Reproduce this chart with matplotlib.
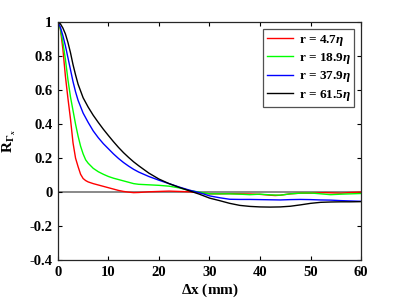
import numpy as np
import matplotlib
matplotlib.use("Agg")
from matplotlib import pyplot as plt

# values
x_red = [0, 0.5, 1, 1.5, 2, 2.5, 3, 3.5, 4, 4.5, 5, 5.5, 6, 7, 8, 9, 10, 11, 12, 13, 14, 15, 16,
         18, 20, 22, 24, 26, 28, 30, 32, 34, 36, 38, 40, 42, 43, 44, 46, 48, 50, 52, 53, 54, 56,
         58, 60]
y_red = [1.0, 0.96, 0.84, 0.68, 0.55, 0.43, 0.29, 0.2, 0.15, 0.105, 0.08, 0.068, 0.06, 0.05, 0.042,
         0.034, 0.026, 0.018, 0.01, 0.004, 0.0, -0.003, -0.002, 0.002, 0.004, 0.006, 0.004, 0.002,
         -0.004, -0.01, -0.01, -0.009, -0.01, -0.011, -0.013, -0.018, -0.02, -0.018, -0.01, -0.006,
         -0.006, -0.004, -0.003, -0.004, -0.006, -0.002, 0.0]

x_green = [0, 0.5, 1, 1.5, 2, 2.5, 3, 3.5, 4, 4.5, 5, 5.5, 6, 7, 8, 9, 10, 11, 12, 13, 14, 15, 16,
           18, 20, 22, 24, 26, 28, 30, 32, 34, 36, 38, 40, 42, 44, 46, 48, 50, 52, 54, 56, 58, 60]
y_green = [1.0, 0.96, 0.88, 0.78, 0.66, 0.56, 0.48, 0.4, 0.33, 0.27, 0.225, 0.19, 0.17, 0.14, 0.12,
           0.105, 0.092, 0.082, 0.074, 0.066, 0.058, 0.05, 0.046, 0.043, 0.04, 0.035, 0.025, 0.01,
           0.0, -0.01, -0.01, -0.01, -0.012, -0.015, -0.012, -0.016, -0.018, -0.01, -0.006, -0.005,
           -0.01, -0.015, -0.012, -0.01, -0.008]

x_blue = [0, 0.5, 1, 1.5, 2, 2.5, 3, 3.5, 4, 5, 6, 7, 8, 9, 10, 11, 12, 13, 14, 15, 16, 18, 20,
          22, 24, 26, 28, 30, 32, 34, 36, 38, 40, 42, 44, 46, 48, 50, 52, 54, 56, 58, 60]
y_blue = [1.0, 0.97, 0.92, 0.86, 0.79, 0.72, 0.65, 0.59, 0.54, 0.465, 0.41, 0.36, 0.32, 0.285,
          0.255, 0.225, 0.198, 0.174, 0.153, 0.134, 0.118, 0.092, 0.07, 0.05, 0.03, 0.012, -0.003,
          -0.022, -0.033, -0.042, -0.043, -0.043, -0.044, -0.045, -0.046, -0.044, -0.043, -0.044,
          -0.046, -0.047, -0.05, -0.052, -0.054]

x_black = [0, 0.5, 1, 1.5, 2, 2.5, 3, 3.5, 4, 5, 6, 7, 8, 9, 10, 11, 12, 13, 14, 15, 16, 18, 20,
           22, 24, 26, 28, 30, 32, 34, 36, 38, 40, 42, 44, 46, 48, 50, 52, 54, 56, 58, 60]
y_black = [1.0, 0.99, 0.965, 0.93, 0.88, 0.82, 0.75, 0.69, 0.635, 0.555, 0.5, 0.452, 0.41, 0.37,
           0.333, 0.297, 0.263, 0.232, 0.204, 0.178, 0.155, 0.112, 0.077, 0.05, 0.028, 0.008,
           -0.012, -0.035, -0.05, -0.066, -0.078, -0.084, -0.087, -0.088, -0.087, -0.083, -0.075,
           -0.066, -0.06, -0.058, -0.057, -0.057, -0.056]

labels = [r'r = 4.7$\mathit{\eta}$', r'r = 18.9$\mathit{\eta}$',
          r'r = 37.9$\mathit{\eta}$', r'r = 61.5$\mathit{\eta}$']
colors = ['#ff0000', '#00ff00', '#0000ff', '#000000']


def main():
    plt.rcParams['font.family'] = 'Liberation Serif'
    plt.rcParams['font.weight'] = 'bold'
    plt.rcParams['mathtext.fontset'] = 'custom'
    plt.rcParams['mathtext.rm'] = 'Liberation Serif:bold'
    plt.rcParams['mathtext.bf'] = 'Liberation Serif:bold'
    plt.rcParams['mathtext.it'] = 'Liberation Serif:bold:italic'

    fig = plt.figure(figsize=(3.99, 2.99), dpi=100)
    ax = fig.add_axes([0.145, 0.13, 0.76, 0.796])

    ax.axhline(0, color='#808080', lw=1.3, zorder=1)
    series = [(x_red, y_red), (x_green, y_green), (x_blue, y_blue), (x_black, y_black)]
    for (xs, ys), c, lab in zip(series, colors, labels):
        ax.plot(xs, ys, color=c, lw=1.0, label=lab, zorder=2)

    ax.set_xlim(0, 60)
    ax.set_ylim(-0.4, 1)
    ax.set_xticks([0, 10, 20, 30, 40, 50, 60])
    ax.set_yticks([-0.4, -0.2, 0, 0.2, 0.4, 0.6, 0.8, 1])
    ax.set_yticklabels(['-0.4', '-0.2', '0', '0.2', '0.4', '0.6', '0.8', '1'])
    ax.tick_params(direction='in', top=True, right=True, labelsize=10.5, length=3, width=0.8, pad=4)
    for s in ax.spines.values():
        s.set_linewidth(0.9)
        s.set_color('#262626')

    ax.set_xlabel(r'$\Delta$x (mm)', fontsize=11, fontweight='bold', labelpad=2)
    ax.set_ylabel(r'R$_{\Gamma_x}$', fontsize=11, fontweight='bold', labelpad=8)

    leg = ax.legend(loc='upper right', fontsize=9.5, frameon=True, fancybox=False,
                    edgecolor='#262626', handlelength=2.0, handletextpad=0.4,
                    borderpad=0.3, labelspacing=0.25, borderaxespad=0.5)
    leg.get_frame().set_linewidth(0.9)

    fig.savefig('out.png', dpi=100)


if __name__ == "__main__":
    main()
